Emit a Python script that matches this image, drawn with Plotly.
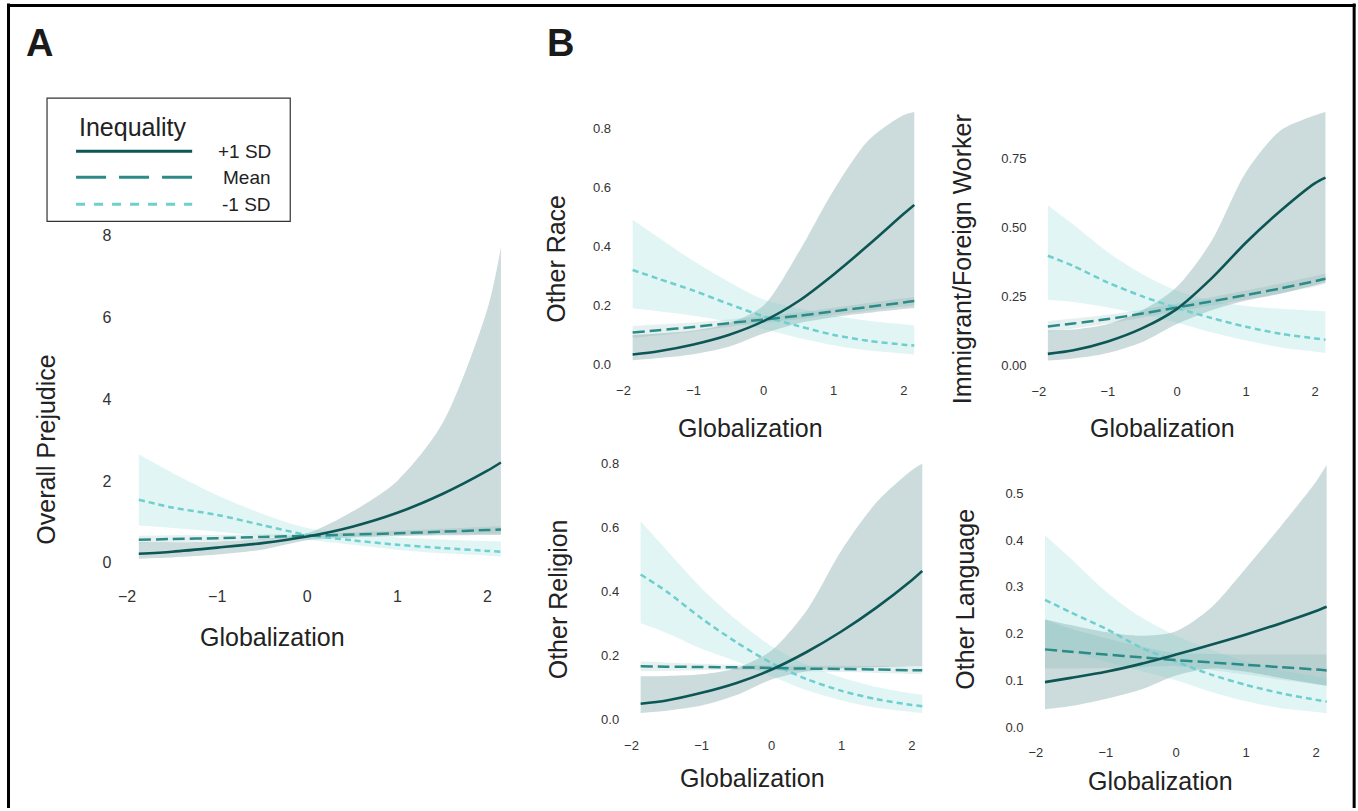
import plotly.graph_objects as go

W, H = 1358, 811

# ---------------- data ----------------
glob_x = [-1.87, -1.5, -1.0, -0.5, 0.0, 0.5, 1.0, 1.5, 2.0, 2.15]
x_ticks = [-2, -1, 0, 1, 2]
x_ticktext = ["\u22122", "\u22121", "0", "1", "2"]

# Panel A: Overall Prejudice
a_hi = [0.22, 0.27, 0.37, 0.48, 0.64, 0.88, 1.22, 1.68, 2.25, 2.45]
a_hi_up = [0.50, 0.50, 0.52, 0.58, 0.72, 1.25, 2.00, 3.40, 6.20, 7.70]
a_hi_lo = [0.10, 0.13, 0.20, 0.32, 0.55, 0.62, 0.65, 0.67, 0.68, 0.68]
a_mean = [0.56, 0.58, 0.60, 0.63, 0.66, 0.69, 0.72, 0.76, 0.80, 0.81]
a_mean_up = [0.66, 0.67, 0.68, 0.69, 0.70, 0.74, 0.78, 0.83, 0.88, 0.90]
a_mean_lo = [0.48, 0.50, 0.53, 0.57, 0.62, 0.65, 0.67, 0.69, 0.71, 0.72]
a_lo = [1.54, 1.35, 1.17, 0.92, 0.68, 0.55, 0.44, 0.36, 0.29, 0.27]
a_lo_up = [2.65, 2.20, 1.65, 1.20, 0.85, 0.70, 0.62, 0.57, 0.53, 0.52]
a_lo_lo = [0.91, 0.85, 0.76, 0.66, 0.56, 0.44, 0.32, 0.23, 0.17, 0.15]

# Other Race
r_hi = [0.034, 0.045, 0.068, 0.100, 0.147, 0.215, 0.305, 0.405, 0.510, 0.540]
r_hi_up = [0.100, 0.105, 0.115, 0.140, 0.200, 0.380, 0.590, 0.760, 0.845, 0.855]
r_hi_lo = [0.014, 0.022, 0.035, 0.060, 0.105, 0.140, 0.160, 0.175, 0.188, 0.190]
r_mean = [0.108, 0.116, 0.127, 0.140, 0.152, 0.165, 0.180, 0.195, 0.210, 0.215]
r_mean_up = [0.130, 0.135, 0.142, 0.152, 0.163, 0.176, 0.192, 0.208, 0.224, 0.228]
r_mean_lo = [0.090, 0.099, 0.112, 0.128, 0.141, 0.154, 0.168, 0.182, 0.196, 0.200]
r_lo = [0.320, 0.290, 0.250, 0.205, 0.163, 0.130, 0.100, 0.080, 0.067, 0.064]
r_lo_up = [0.490, 0.430, 0.350, 0.280, 0.220, 0.190, 0.165, 0.148, 0.136, 0.132]
r_lo_lo = [0.190, 0.180, 0.165, 0.145, 0.120, 0.090, 0.065, 0.047, 0.037, 0.034]

# Immigrant/Foreign Worker
i_hi = [0.042, 0.055, 0.087, 0.135, 0.205, 0.315, 0.445, 0.560, 0.660, 0.680]
i_hi_up = [0.127, 0.130, 0.150, 0.200, 0.285, 0.450, 0.700, 0.850, 0.905, 0.917]
i_hi_lo = [0.018, 0.025, 0.045, 0.085, 0.150, 0.200, 0.235, 0.260, 0.290, 0.300]
i_mean = [0.141, 0.152, 0.168, 0.188, 0.210, 0.232, 0.255, 0.279, 0.305, 0.314]
i_mean_up = [0.160, 0.170, 0.184, 0.202, 0.224, 0.247, 0.271, 0.297, 0.324, 0.333]
i_mean_lo = [0.122, 0.134, 0.152, 0.174, 0.196, 0.217, 0.239, 0.261, 0.286, 0.295]
i_lo = [0.397, 0.360, 0.300, 0.250, 0.208, 0.172, 0.140, 0.115, 0.098, 0.093]
i_lo_up = [0.580, 0.510, 0.410, 0.330, 0.270, 0.235, 0.215, 0.205, 0.198, 0.196]
i_lo_lo = [0.238, 0.230, 0.210, 0.185, 0.155, 0.120, 0.090, 0.065, 0.050, 0.045]

# Other Religion
g_hi = [0.048, 0.058, 0.082, 0.113, 0.155, 0.210, 0.275, 0.350, 0.435, 0.464]
g_hi_up = [0.134, 0.135, 0.140, 0.160, 0.215, 0.340, 0.530, 0.680, 0.780, 0.800]
g_hi_lo = [0.019, 0.026, 0.042, 0.075, 0.124, 0.150, 0.158, 0.162, 0.165, 0.165]
g_mean = [0.165, 0.164, 0.163, 0.162, 0.160, 0.158, 0.157, 0.155, 0.153, 0.153]
g_mean_up = [0.180, 0.177, 0.173, 0.170, 0.168, 0.167, 0.167, 0.166, 0.165, 0.165]
g_mean_lo = [0.150, 0.151, 0.153, 0.154, 0.152, 0.149, 0.147, 0.144, 0.141, 0.141]
g_lo = [0.453, 0.400, 0.315, 0.240, 0.175, 0.125, 0.088, 0.062, 0.044, 0.040]
g_lo_up = [0.620, 0.530, 0.410, 0.310, 0.228, 0.170, 0.130, 0.100, 0.080, 0.076]
g_lo_lo = [0.300, 0.270, 0.220, 0.180, 0.134, 0.090, 0.058, 0.035, 0.022, 0.019]

# Other Language
l_hi = [0.096, 0.105, 0.118, 0.135, 0.155, 0.176, 0.198, 0.222, 0.248, 0.257]
l_hi_up = [0.230, 0.218, 0.203, 0.195, 0.205, 0.255, 0.340, 0.430, 0.525, 0.560]
l_hi_lo = [0.038, 0.045, 0.060, 0.080, 0.110, 0.125, 0.118, 0.105, 0.092, 0.088]
l_mean = [0.166, 0.161, 0.155, 0.149, 0.143, 0.138, 0.133, 0.128, 0.123, 0.121]
l_mean_up = [0.230, 0.210, 0.190, 0.172, 0.158, 0.156, 0.155, 0.155, 0.155, 0.155]
l_mean_lo = [0.125, 0.125, 0.126, 0.128, 0.130, 0.122, 0.112, 0.101, 0.091, 0.088]
l_lo = [0.272, 0.245, 0.210, 0.170, 0.140, 0.112, 0.090, 0.072, 0.058, 0.054]
l_lo_up = [0.410, 0.360, 0.290, 0.235, 0.195, 0.165, 0.140, 0.122, 0.108, 0.105]
l_lo_lo = [0.170, 0.160, 0.140, 0.120, 0.100, 0.075, 0.055, 0.040, 0.032, 0.029]

legend_title = "Inequality"
legend_labels = ["+1 SD", "Mean", "-1 SD"]

# ---------------- styles ----------------
C_HI, C_MEAN, C_LO = "#0c5655", "#2c8a87", "#6fcfcf"
F_HI = "rgba(12,86,85,0.21)"
F_MEAN = "rgba(44,138,135,0.12)"
F_LO = "rgba(111,207,207,0.20)"
TXT = "#222222"
FONT = "Liberation Sans, Arial, sans-serif"

# target pixel -> paper coordinate (with a small calibration for the capture)
CAL_SX, CAL_OX = 0.994, 7.0
CAL_SY, CAL_OY = 0.990, 5.0


def px_x(p):
    return ((p - CAL_OX) / CAL_SX) / W


def px_y(p):
    return 1 - ((p - CAL_OY) / CAL_SY) / H


panels = [
    dict(key="", series=(a_hi, a_hi_up, a_hi_lo, a_mean, a_mean_up, a_mean_lo, a_lo, a_lo_up, a_lo_lo),
         xz=307, xs=90, yz=563, ys=40.875, yr=[-0.2, 8.1], yt=[0, 2, 4, 6, 8], yfmt="d", tf=16,
         ylab="Overall Prejudice", ylx=46, yly=450, xlx=272, xly=637, ystand=13, xstand=14),
    dict(key="2", series=(r_hi, r_hi_up, r_hi_lo, r_mean, r_mean_up, r_mean_lo, r_lo, r_lo_up, r_lo_lo),
         xz=763, xs=70, yz=365, ys=295, yr=[-0.02, 0.87], yt=[0, 0.2, 0.4, 0.6, 0.8], yfmt=".1f", tf=13,
         ylab="Other Race", ylx=556, yly=259, xlx=750, xly=428, ystand=10, xstand=11),
    dict(key="3", series=(i_hi, i_hi_up, i_hi_lo, i_mean, i_mean_up, i_mean_lo, i_lo, i_lo_up, i_lo_lo),
         xz=1176, xs=69, yz=366, ys=276, yr=[-0.02, 0.93], yt=[0, 0.25, 0.5, 0.75], yfmt=".2f", tf=13,
         ylab="Immigrant/Foreign Worker", ylx=962, yly=260, xlx=1162, xly=428, ystand=10, xstand=11),
    dict(key="4", series=(g_hi, g_hi_up, g_hi_lo, g_mean, g_mean_up, g_mean_lo, g_lo, g_lo_up, g_lo_lo),
         xz=771, xs=70, yz=719, ys=318.5, yr=[-0.02, 0.81], yt=[0, 0.2, 0.4, 0.6, 0.8], yfmt=".1f", tf=13,
         ylab="Other Religion", ylx=557, yly=599, xlx=752, xly=778, ystand=10, xstand=11),
    dict(key="5", series=(l_hi, l_hi_up, l_hi_lo, l_mean, l_mean_up, l_mean_lo, l_lo, l_lo_up, l_lo_lo),
         xz=1175, xs=70, yz=727, ys=467, yr=[-0.01, 0.57], yt=[0, 0.1, 0.2, 0.3, 0.4, 0.5], yfmt=".1f", tf=13,
         ylab="Other Language", ylx=964, yly=599, xlx=1160, xly=781, ystand=10, xstand=11),
]

X_RANGE = [-2.02, 2.16]

fig = go.Figure()
annotations = []
layout_axes = {}

for p in panels:
    k = p["key"]
    xa, ya = "x" + k, "y" + k
    hi, hi_up, hi_lo, mn, mn_up, mn_lo, lo, lo_up, lo_lo = p["series"]
    common = dict(x=glob_x, xaxis=xa, yaxis=ya, showlegend=False, hoverinfo="skip")
    spline = dict(shape="spline", smoothing=0.8)
    for lower, upper, fc in ((hi_lo, hi_up, F_HI), (mn_lo, mn_up, F_MEAN), (lo_lo, lo_up, F_LO)):
        fig.add_trace(go.Scatter(y=lower, mode="lines", line=dict(width=0, **spline), **common))
        fig.add_trace(go.Scatter(y=upper, mode="lines", line=dict(width=0, **spline),
                                 fill="tonexty", fillcolor=fc, **common))
    fig.add_trace(go.Scatter(y=lo, mode="lines", line=dict(color=C_LO, width=2.5, dash="6px,4px", **spline), **common))
    fig.add_trace(go.Scatter(y=mn, mode="lines", line=dict(color=C_MEAN, width=2.5, dash="12px,5px", **spline), **common))
    fig.add_trace(go.Scatter(y=hi, mode="lines", line=dict(color=C_HI, width=2.6, **spline), **common))

    left = p["xz"] + X_RANGE[0] * p["xs"]
    right = p["xz"] + X_RANGE[1] * p["xs"]
    bottom = p["yz"] - p["yr"][0] * p["ys"]
    top = p["yz"] - p["yr"][1] * p["ys"]
    axis_font = dict(family=FONT, size=p["tf"], color="#333333")
    layout_axes["xaxis" + k] = dict(
        domain=[px_x(left), px_x(right)], range=X_RANGE, anchor=ya,
        tickvals=x_ticks, ticktext=x_ticktext, showgrid=False, zeroline=False, showline=False,
        ticks="", tickfont=axis_font, ticklabelstandoff=p["xstand"])
    layout_axes["yaxis" + k] = dict(
        domain=[px_y(bottom), px_y(top)], range=p["yr"], anchor=xa,
        tickvals=p["yt"], tickformat=p["yfmt"], showgrid=False, zeroline=False, showline=False,
        ticks="", tickfont=axis_font, ticklabelstandoff=p["ystand"])
    annotations.append(dict(text=p["ylab"], x=px_x(p["ylx"]), y=px_y(p["yly"]), xref="paper", yref="paper",
                            showarrow=False, textangle=-90, xanchor="center", yanchor="middle",
                            font=dict(family=FONT, size=25, color=TXT)))
    annotations.append(dict(text="Globalization", x=px_x(p["xlx"]), y=px_y(p["xly"]), xref="paper", yref="paper",
                            showarrow=False, xanchor="center", yanchor="middle",
                            font=dict(family=FONT, size=25, color=TXT)))

# Panel letters
for letter, lx in (("A", 39), ("B", 560)):
    annotations.append(dict(text="<b>%s</b>" % letter, x=px_x(lx), y=px_y(44), xref="paper", yref="paper",
                            showarrow=False, xanchor="center", yanchor="middle",
                            font=dict(family=FONT, size=38, color="#1a1a1a")))

shapes = []
# outer frame (left, top, right edges)
frame = dict(color="black", width=3)
shapes.append(dict(type="line", xref="paper", yref="paper", x0=px_x(8.5), x1=px_x(8.5), y0=0, y1=px_y(4.5), line=frame))
shapes.append(dict(type="line", xref="paper", yref="paper", x0=px_x(7), x1=px_x(1354.5), y0=px_y(6.5), y1=px_y(6.5), line=frame))
shapes.append(dict(type="line", xref="paper", yref="paper", x0=px_x(1353), x1=px_x(1353), y0=0, y1=px_y(4.5), line=frame))
# legend box
shapes.append(dict(type="rect", xref="paper", yref="paper", x0=px_x(47), x1=px_x(290), y0=px_y(222), y1=px_y(99),
                   line=dict(color="#333333", width=1.2), fillcolor="white", layer="above"))
annotations.append(dict(text=legend_title, x=px_x(77), y=px_y(128), xref="paper", yref="paper", showarrow=False,
                        xanchor="left", yanchor="middle", font=dict(family=FONT, size=25, color=TXT)))
leg_styles = [(C_HI, "solid"), (C_MEAN, "30px,13px"), (C_LO, "9px,9px")]
for (col, dsh), lab, ly in zip(leg_styles, legend_labels, (152, 178, 205)):
    shapes.append(dict(type="line", xref="paper", yref="paper", x0=px_x(76), x1=px_x(192), y0=px_y(ly), y1=px_y(ly),
                       line=dict(color=col, width=3, dash=dsh), layer="above"))
    annotations.append(dict(text=lab, x=px_x(273), y=px_y(ly), xref="paper", yref="paper", showarrow=False,
                            xanchor="right", yanchor="middle", font=dict(family=FONT, size=19, color=TXT)))

fig.update_layout(
    width=W, height=H, autosize=False,
    margin=dict(l=0, r=0, t=0, b=0),
    paper_bgcolor="white", plot_bgcolor="rgba(0,0,0,0)",
    annotations=annotations, shapes=shapes,
    font=dict(family=FONT),
    **layout_axes,
)

post = (
    "var gd=document.getElementById('{plot_id}');"
    "document.documentElement.style.cssText='margin:0;padding:0;overflow:hidden;';"
    "document.body.style.cssText='margin:0;padding:0;overflow:hidden;';"
    "if(gd){gd.style.position='fixed';gd.style.left='0px';gd.style.top='0px';"
    "gd.style.margin='0';gd.style.overflow='hidden';}"
    "window.scrollTo(0,0);"
)

fig.write_html("out.html", config={"displayModeBar": False}, post_script=post)
